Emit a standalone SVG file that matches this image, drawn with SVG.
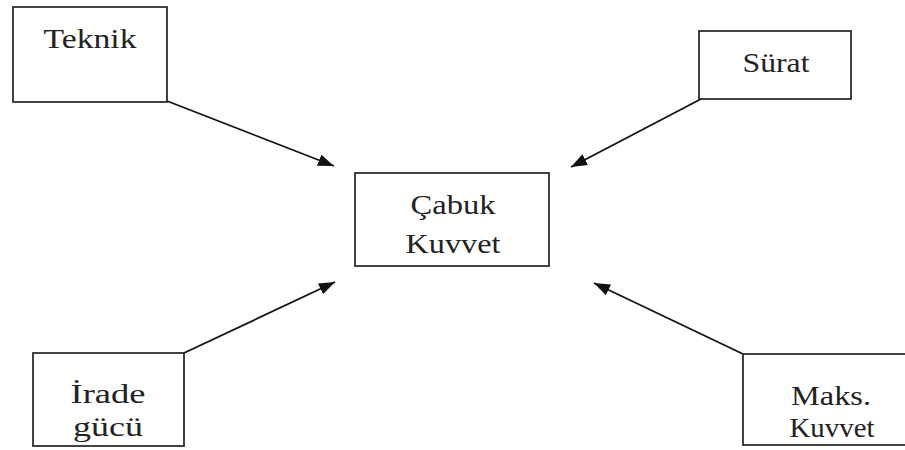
<svg xmlns="http://www.w3.org/2000/svg" width="905" height="450" viewBox="0 0 905 450">
<defs>
<style>
.box{fill:#fff;stroke:#222;stroke-width:1.7}
.t{font-family:'Liberation Serif','Times New Roman',serif;font-size:28px;fill:#222;text-anchor:middle}
.c{stroke:#111;stroke-width:1.8;fill:none;marker-end:url(#ah)}
</style>
<marker id="ah" viewBox="0 0 16 12" refX="16" refY="6" markerWidth="16" markerHeight="12" markerUnits="userSpaceOnUse" orient="auto">
<path d="M0,0 L16,6 L0,12 z" fill="#111"/>
</marker>
</defs>
<rect width="905" height="450" fill="#fff"/>
<g id="connectors">
<line class="c" x1="167" y1="101" x2="334" y2="166"/>
<line class="c" x1="701" y1="99" x2="571" y2="167"/>
<line class="c" x1="184" y1="353" x2="335" y2="282"/>
<line class="c" x1="743" y1="354" x2="594" y2="283"/>
</g>
<g id="teknik">
<rect class="box" x="13" y="7" width="154" height="95"/>
<text class="t" x="90" y="48" textLength="93" lengthAdjust="spacingAndGlyphs">Teknik</text>
</g>
<g id="surat">
<rect class="box" x="699" y="31" width="152" height="68"/>
<text class="t" x="776" y="72" textLength="67" lengthAdjust="spacingAndGlyphs">Sürat</text>
</g>
<g id="cabuk-kuvvet">
<rect class="box" x="355" y="173" width="194" height="93"/>
<text class="t" x="453" y="214" textLength="85" lengthAdjust="spacingAndGlyphs">Çabuk</text>
<text class="t" x="453" y="253" textLength="95" lengthAdjust="spacingAndGlyphs">Kuvvet</text>
</g>
<g id="irade-gucu">
<rect class="box" x="33" y="353" width="151" height="93"/>
<text class="t" x="108" y="403" textLength="75" lengthAdjust="spacingAndGlyphs">İrade</text>
<text class="t" x="108" y="436" textLength="70" lengthAdjust="spacingAndGlyphs">gücü</text>
</g>
<g id="maks-kuvvet">
<rect class="box" x="743" y="354" width="164" height="91"/>
<text class="t" x="831" y="405" textLength="80" lengthAdjust="spacingAndGlyphs">Maks.</text>
<text class="t" x="832" y="437" textLength="85" lengthAdjust="spacingAndGlyphs">Kuvvet</text>
</g>
</svg>
